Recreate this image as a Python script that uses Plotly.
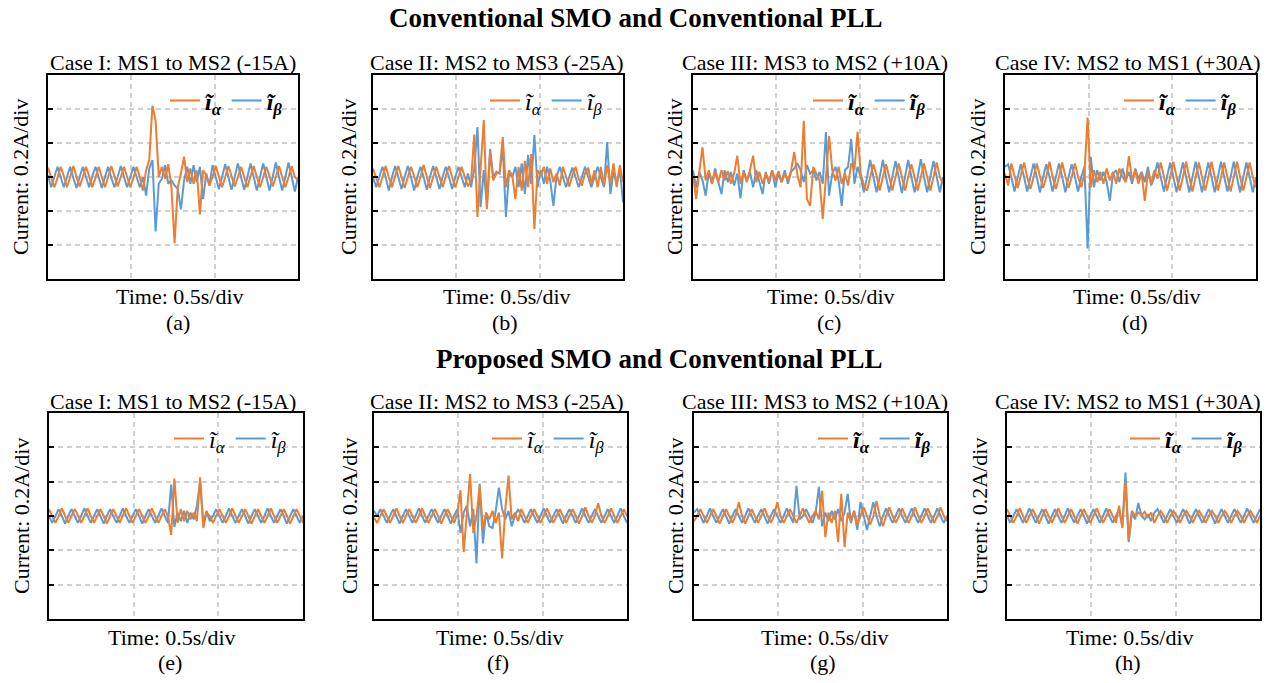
import numpy as np
import plotly.graph_objects as go

# ---------------- data ----------------
t = np.linspace(0, 1.5, 80)  # time (s)

panel_titles = ["Case I: MS1 to MS2 (-15A)", "Case II: MS2 to MS3 (-25A)",
                "Case III: MS3 to MS2 (+10A)", "Case IV: MS2 to MS1 (+30A)",
                "Case I: MS1 to MS2 (-15A)", "Case II: MS2 to MS3 (-25A)",
                "Case III: MS3 to MS2 (+10A)", "Case IV: MS2 to MS1 (+30A)"]
panel_letters = ["(a)", "(b)", "(c)", "(d)", "(e)", "(f)", "(g)", "(h)"]
row_titles = ["Conventional SMO and Conventional PLL", "Proposed SMO and Conventional PLL"]
x_label = "Time: 0.5s/div"
y_label = "Current: 0.2A/div"

# current estimation errors in mA
a_alpha = [55, 0, -60, -5, 60, 5, -60, 0, 65, 0,
           -55, 0, 60, 5, -60, -5, 60, 0, -60, 0,
           65, 5, -55, 0, 60, 0, -60, -5, 60, 0,
           -80, 40, 100, 420, 330, 0, 60, -10, 75, -60,
           -390, -60, 20, 120, -30, 50, -40, 40, -220, 40,
           10, -50, 0, 65, 0, -60, 0, 65, 5, -55,
           0, 60, 0, -60, 5, 65, 0, -60, 0, 60,
           5, -55, 0, 65, 0, -60, 0, 65, 0, -20]
a_beta = [10, -60, 0, 60, 0, -60, 0, 60, -5, -65,
          0, 60, 0, -60, 5, 60, 0, -65, 0, 60,
          -5, -60, 0, 65, 0, -60, 0, 60, 0, -60,
          0, -110, 50, 100, -320, -40, -10, 70, -40, -20,
          -50, -70, -190, -20, 60, -40, 70, -30, 60, -130,
          20, -50, 70, 0, -70, 0, 75, 0, -75, 0,
          80, 0, -75, 0, 80, 0, -80, 0, 80, 0,
          -80, 0, 85, 0, -80, 0, 85, 0, -85, 0]

b_alpha = [50, 0, -60, 0, 65, 0, -60, 5, 65, 0,
           -65, 0, 60, 5, -60, 0, 70, 0, -65, 0,
           60, 0, -60, 5, 65, 0, -60, 0, 60, 0,
           -55, -20, 250, -235, 40, 335, -190, 145, -20, 20,
           30, 235, -60, 40, 10, -130, 60, -80, 95, -60,
           135, -305, 40, 10, 60, -40, 50, -30, 20, -50,
           60, 0, -55, 10, 60, -10, -50, 20, 55, -40,
           40, -60, 60, -50, 70, -40, 80, -60, 70, -30]
b_beta = [0, -60, 0, 60, 0, -80, 0, 65, 0, -70,
          0, 65, 0, -80, 0, 60, 0, -75, 0, 65,
          0, -70, 0, 60, 0, -70, 0, 60, 0, -60,
          20, -60, 50, 294, -178, 40, -170, 165, 0, 30,
          20, 176, -235, 30, 0, 60, -60, 80, -100, 130,
          -40, 247, -60, 40, -40, 60, -20, -170, 0, 60,
          0, -60, 0, 55, 0, -60, 0, 60, 0, -60,
          0, 60, 0, -60, 206, -100, 30, -40, 50, -150]

c_alpha = [20, -130, 30, 175, -20, 40, -40, 30, -30, 40,
           -20, 35, -40, 20, 125, -40, 30, -30, 40, 125,
           -30, 30, -40, 20, -30, 40, -20, 35, -30, 20,
           -20, 40, 147, 10, -60, 330, -130, -170, 60, 20,
           -20, -247, 20, 240, 40, -20, 60, -40, 20, -50,
           80, 40, 265, 20, -50, -80, 0, 75, 10, -80,
           0, 75, 0, -80, 0, 80, 0, -80, 0, 75,
           0, -80, 0, 80, 0, -80, 0, 85, 0, -40]
c_beta = [40, -60, 30, -20, -110, 30, -40, 50, -30, -100,
          40, -30, 30, -50, 20, -125, 40, -20, 30, -60,
          40, -30, -100, 30, -40, 40, -60, 20, -30, 40,
          -40, 30, 50, 80, 40, -30, 70, 20, 40, -20,
          30, -40, 265, -110, 20, 60, -20, -170, 40, 60,
          224, -40, 60, 0, -90, 0, 100, 0, -90, 0,
          100, 0, -90, 0, 95, 0, -95, 0, 100, 0,
          -90, 0, 105, 0, -90, 0, 95, 0, -90, 0]

d_alpha = [20, -50, 80, 0, -65, 10, 85, 0, -70, 0,
           80, 5, -65, 0, 90, 0, -70, 0, 85, 5,
           -65, 0, 80, 0, -60, 20, 350, -60, 40, -30,
           30, -40, 50, -20, 30, -40, 50, 0, -30, 123,
           -20, 40, -40, 20, -140, 30, -40, 40, -10, 85,
           0, -80, 0, 90, 0, -80, 0, 90, 0, -85,
           0, 85, 0, -80, 0, 90, 0, -80, 0, 85,
           0, -85, 0, 90, 0, -80, 0, 85, 0, -60]
d_beta = [60, 75, 0, -85, 0, 75, 0, -85, 0, 80,
          0, -90, 0, 75, 0, -85, 0, 80, 0, -90,
          0, 75, 0, -85, 0, 60, -420, 118, -60, 40,
          -20, 30, -30, -140, 20, 40, -30, 50, -20, 30,
          -40, 50, -10, 30, -30, 60, -50, 0, 85, 0,
          -85, 0, 85, 0, -90, 0, 85, 0, -90, 0,
          90, 0, -90, 0, 85, 0, -90, 0, 90, 0,
          -85, 0, 90, 0, -90, 0, 85, 0, -90, 0]

e_alpha = [40, 0, -40, 0, 45, 0, -40, 0, 40, 5,
           -40, 0, 45, 0, -40, 0, 40, 0, -45, 0,
           40, 0, -40, 5, 45, 0, -40, 0, 40, 0,
           -40, 0, 45, 0, -40, 0, 40, 0, -110, 218,
           -40, 40, -30, 30, -20, 20, -30, 225, -70, 20,
           0, -40, 0, 40, 0, -40, 0, 45, 0, -40,
           0, 40, 0, -45, 0, 40, 0, -40, 0, 45,
           0, -40, 0, 40, 0, -45, 0, 40, 0, -40]
e_beta = [0, -40, 0, 40, 0, -45, 0, 40, 0, -40,
          0, 45, 0, -40, 0, 40, 0, -45, 0, 40,
          0, -40, 0, 45, 0, -40, 0, 40, 0, -45,
          0, 40, 0, -40, 0, 45, 0, -40, 183, -64,
          20, -30, 30, -40, 20, -20, 60, 200, -50, 30,
          -30, 0, 40, 0, -40, 0, 45, 0, -40, 0,
          40, 0, -45, 0, 40, 0, -40, 0, 45, 0,
          -40, 0, 40, 0, -45, 0, 40, 0, -40, 0]

f_alpha = [-10, -40, 0, 40, 0, -40, 0, 45, 0, -40,
           0, 40, 0, -40, 0, 45, 0, -40, 0, 40,
           0, -45, 0, 40, 0, -40, 10, 150, -210, 40,
           245, -100, 0, 175, -80, 20, -20, 30, -40, 20,
           -247, 40, 235, -20, 20, -30, 40, 0, -40, 0,
           40, 0, -40, 0, 45, 0, -40, 0, 40, 0,
           -40, 0, 40, 0, -45, 0, 50, 0, -40, 0,
           75, 0, -40, 0, 45, 0, -40, 0, 40, 0]
f_beta = [30, 0, 40, 0, -40, 0, 40, 0, -45, 0,
          40, 0, -40, 0, 45, 0, -40, 0, 40, 0,
          -40, 0, 40, 0, -45, 0, 40, -100, 20, 60,
          -60, 40, -276, 188, -160, 20, -60, -70, 30, 165,
          40, -20, 30, -60, 0, 40, 0, -40, 0, 40,
          0, -40, 0, 45, 0, -40, 0, 40, 0, -45,
          0, 40, 0, -40, 0, 45, 0, -40, 0, 40,
          0, -40, 0, 40, 0, -40, 0, 45, 0, -40]

g_alpha = [-30, 0, 40, 0, -40, 0, 40, 0, -45, 0,
           40, 0, -40, 0, 80, 0, -45, 0, 40, 0,
           -40, 0, 45, 0, -40, 0, 80, 0, -40, 0,
           40, 0, -40, 0, 45, 0, -40, 0, 30, -20,
           147, -123, 20, -40, 30, -153, 129, -182, 20, -30,
           30, -50, 0, 50, 0, -50, 0, 88, 0, -60,
           0, 50, 0, -40, 0, 45, 0, -40, 0, 50,
           0, -40, 0, 45, 0, -40, 0, 50, 0, -30]
g_beta = [20, 40, 0, -40, 0, 45, 0, -40, 0, 40,
          0, -45, 0, 40, 0, -40, 0, 45, 0, -40,
          0, 40, 0, -45, 0, 40, 0, -40, 0, 45,
          0, -40, 175, -20, 0, 40, 0, -40, 20, 170,
          -60, 20, -30, 30, -20, 40, -30, 20, 129, -40,
          30, -80, 82, 0, -82, 0, 80, 0, -60, 0,
          45, 0, -40, 0, 45, 0, -40, 0, 45, 0,
          -40, 0, 45, 0, -40, 0, 45, 0, -40, 0]

h_alpha = [40, 0, -40, 0, 45, 0, -40, 0, 40, 0,
           -45, 0, 40, 0, -40, 0, 45, 0, -40, 0,
           40, 0, -45, 0, 40, 0, -40, 0, 45, 0,
           -40, 0, 40, 0, -40, 60, -70, 200, -141, 30,
           0, 20, 5, 25, -10, 20, -40, 0, 30, 0,
           -40, 0, 30, 0, -40, 0, 30, 0, -40, 0,
           30, 0, -40, 0, 30, 0, -40, 0, 30, 0,
           -40, 0, 30, 0, -40, 0, 30, 0, -40, 0]
h_beta = [0, -40, 0, 40, 0, -40, 0, 45, 0, -40,
          0, 40, 0, -45, 0, 40, 0, -40, 0, 45,
          0, -40, 0, 40, 0, -45, 0, 40, 0, -40,
          0, 45, 0, -40, 0, 40, -60, 253, -153, 20,
          -20, 76, 0, -20, 10, -30, 20, 40, 0, -40,
          0, 40, 0, -40, 0, 40, 0, -45, 0, 40,
          0, -40, 0, 40, 0, -45, 0, 40, 0, -40,
          0, 40, 0, -40, 0, 45, 0, -40, 0, 40]

alphas = [a_alpha, b_alpha, c_alpha, d_alpha, e_alpha, f_alpha, g_alpha, h_alpha]
betas = [a_beta, b_beta, c_beta, d_beta, e_beta, f_beta, g_beta, h_beta]
legend_bold = [True, False, True, True, False, False, True, True]

# ---------------- layout ----------------
W, H = 1275, 683
ORANGE = "#ED7D31"
BLUE = "#5B9BD5"
FONT = "Liberation Serif"

# frame pixel boxes (left, right, top, bottom)
frames = [(48, 298, 75, 279), (373, 623, 75, 279), (693, 943, 75, 279), (1005, 1256, 75, 279),
          (49, 303, 413, 619), (374, 627, 413, 619), (694, 947, 413, 619), (1007, 1260, 413, 619)]
ylab_x = [21, 349, 675, 978, 21, 349, 675, 979]
xlab_x = [180, 507, 831, 1137, 172, 500, 825, 1130]
title_x = [173, 497, 815, 1128, 173, 497, 815, 1128]
legend_rx = [288, 608, 931, 1242, 292, 610, 936, 1248]


def px(x):
    return x / W


def py(y):
    return 1 - y / H


fig = go.Figure()
annotations = []
layout = dict(width=W, height=H, margin=dict(l=0, r=0, t=0, b=0),
              paper_bgcolor="white", plot_bgcolor="white",
              font=dict(family=FONT, size=22, color="black"))

for k in range(8):
    n = k + 1
    sfx = "" if n == 1 else str(n)
    l, r, tp, bt = frames[k]
    layout["xaxis" + sfx] = dict(domain=[px(l), px(r)], anchor="y" + sfx, range=[0, 1.5], dtick=0.5,
                                 showgrid=True, gridcolor="#D0D0D0", griddash="5px,4px", gridwidth=1.5,
                                 showline=True, linecolor="black", linewidth=2, mirror=True,
                                 ticks="", showticklabels=False, zeroline=False)
    layout["yaxis" + sfx] = dict(domain=[py(bt), py(tp)], anchor="x" + sfx, range=[-600, 600],
                                 dtick=200, tick0=0,
                                 showgrid=True, gridcolor="#D0D0D0", griddash="5px,4px", gridwidth=1.5,
                                 showline=True, linecolor="black", linewidth=2, mirror=True,
                                 ticks="inside", ticklen=5, tickwidth=1.5, tickcolor="black",
                                 showticklabels=False, zeroline=False)
    leg = "legend" + sfx
    layout[leg] = dict(orientation="h", x=px(legend_rx[k]), xanchor="right", y=py(tp + 26), yanchor="middle",
                       bgcolor="rgba(0,0,0,0)", font=dict(family=FONT, size=24),
                       itemwidth=30, tracegroupgap=0)
    if legend_bold[k]:
        na = "<b><i>ĩ</i></b><sub><b><i>α</i></b></sub>"
        nb = "<b><i>ĩ</i></b><sub><b><i>β</i></b></sub>"
    else:
        na = "<i>ĩ</i><sub><i>α</i></sub>"
        nb = "<i>ĩ</i><sub><i>β</i></sub>"
    fig.add_trace(go.Scatter(x=t, y=betas[k], mode="lines", line=dict(color=BLUE, width=2),
                             name=nb, legend=leg, legendrank=2, xaxis="x" + sfx, yaxis="y" + sfx))
    fig.add_trace(go.Scatter(x=t, y=alphas[k], mode="lines", line=dict(color=ORANGE, width=2),
                             name=na, legend=leg, legendrank=1, xaxis="x" + sfx, yaxis="y" + sfx))
    # texts
    annotations.append(dict(text=panel_titles[k], x=px(title_x[k]), y=py(tp - 12), xref="paper", yref="paper",
                            showarrow=False, xanchor="center", yanchor="middle", font=dict(size=22)))
    annotations.append(dict(text=y_label, x=px(ylab_x[k]), y=py((tp + bt) / 2), xref="paper", yref="paper",
                            showarrow=False, xanchor="center", yanchor="middle", textangle=-90,
                            font=dict(size=22)))
    annotations.append(dict(text=x_label, x=px(xlab_x[k]), y=py(bt + 18), xref="paper", yref="paper",
                            showarrow=False, xanchor="center", yanchor="middle", font=dict(size=22)))
    annotations.append(dict(text=panel_letters[k], x=px(xlab_x[k] - 2), y=py(bt + 43), xref="paper",
                            yref="paper", showarrow=False, xanchor="center", yanchor="middle",
                            font=dict(size=22)))

annotations.append(dict(text="<b>" + row_titles[0] + "</b>", x=px(636), y=py(18), xref="paper", yref="paper",
                        showarrow=False, xanchor="center", yanchor="middle", font=dict(size=27)))
annotations.append(dict(text="<b>" + row_titles[1] + "</b>", x=px(659), y=py(359), xref="paper", yref="paper",
                        showarrow=False, xanchor="center", yanchor="middle", font=dict(size=27)))
layout["annotations"] = annotations
fig.update_layout(**layout)
fig.write_html("out.html")
